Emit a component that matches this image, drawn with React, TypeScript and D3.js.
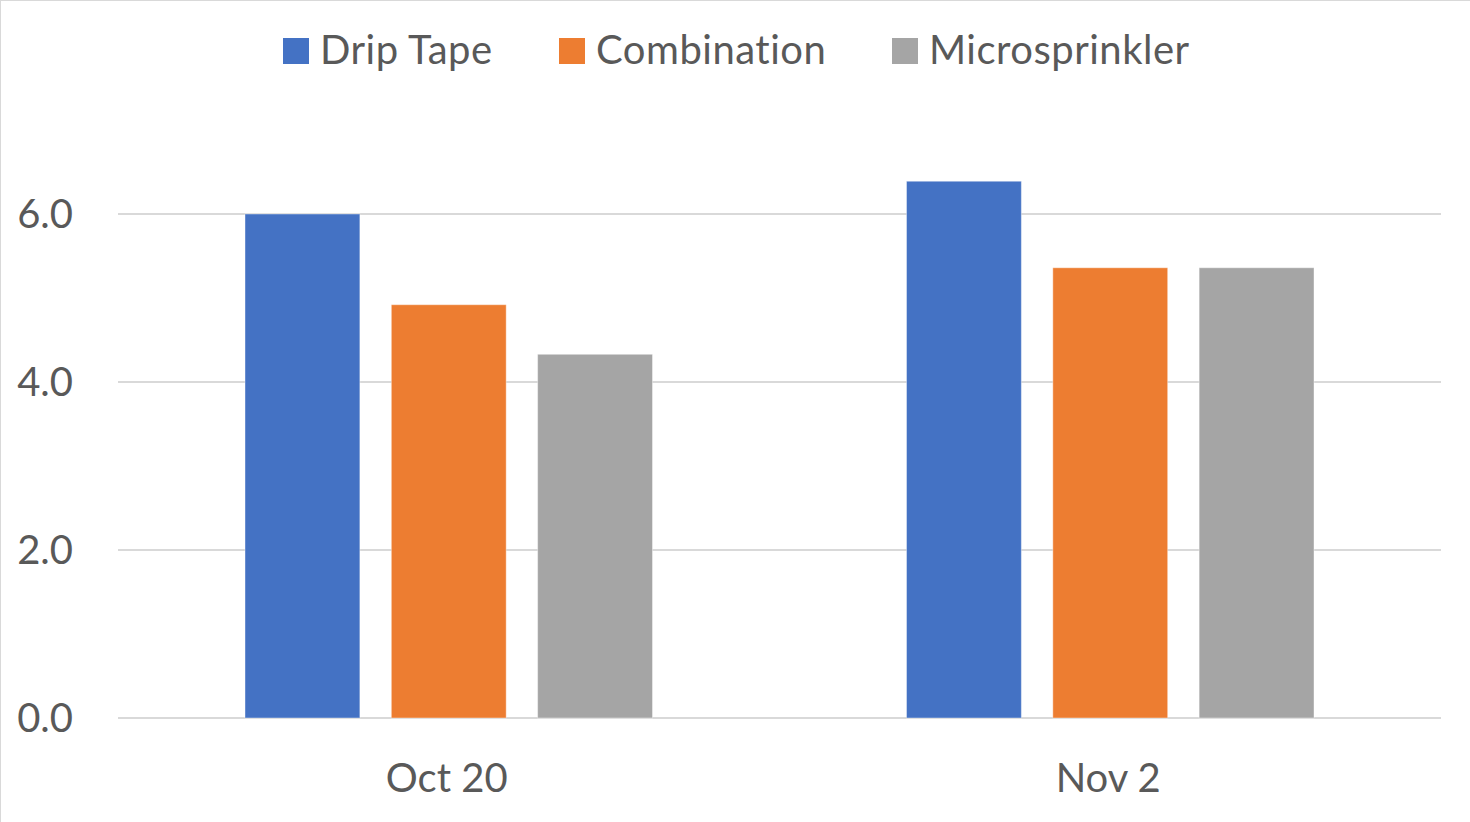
import React, { useEffect, useRef } from 'react';
import * as d3 from 'd3';

const categories = ['Oct 20', 'Nov 2'];
const series = ['Drip Tape', 'Combination', 'Microsprinkler'];
const dripTape = [6.0, 6.39];
const combination = [4.92, 5.36];
const microsprinkler = [4.33, 5.36];
const yTicks = [0, 2, 4, 6];

const colors = ['#4472C4', '#ED7D31', '#A5A5A5'];
const textColor = '#595959';
const gridColor = '#D9D9D9';
const font = 'Lato, "Open Sans", sans-serif';

const width = 1470;
const height = 822;
const margin = { top: 130, right: 29, bottom: 104, left: 118 };

const App: React.FC = () => {
	const ref = useRef<SVGSVGElement>(null);

	useEffect(() => {
		const svg = d3.select(ref.current);
		svg.selectAll('*').remove();

		const values = [dripTape, combination, microsprinkler];
		const innerWidth = width - margin.left - margin.right;
		const innerHeight = height - margin.top - margin.bottom;

		// chart border, like the excel chart area
		svg.append('rect')
			.attr('x', 0.5)
			.attr('y', 0.5)
			.attr('width', width)
			.attr('height', height)
			.attr('fill', '#fff')
			.attr('stroke', gridColor);

		const g = svg.append('g').attr('transform', `translate(${margin.left},${margin.top})`);

		const y = d3.scaleLinear().domain([0, 7]).range([innerHeight, 0]);
		const x0 = d3.scaleBand<string>().domain(categories).range([0, innerWidth]);
		const groupPad = x0.bandwidth() * 0.192;
		const x1 = d3
			.scaleBand<string>()
			.domain(series)
			.range([groupPad, x0.bandwidth() - groupPad])
			.paddingInner(0.215);

		// gridlines
		g.append('g')
			.selectAll('line')
			.data(yTicks)
			.join('line')
			.attr('x1', 0)
			.attr('x2', innerWidth)
			.attr('y1', (d) => y(d))
			.attr('y2', (d) => y(d))
			.attr('stroke', gridColor)
			.attr('stroke-width', 2);

		// y tick labels
		g.append('g')
			.selectAll('text')
			.data(yTicks)
			.join('text')
			.attr('x', -45)
			.attr('y', (d) => y(d))
			.attr('dy', '0.36em')
			.attr('text-anchor', 'end')
			.attr('fill', textColor)
			.style('font-family', font)
			.style('font-size', '40px')
			.text((d) => d3.format('.1f')(d));

		// bars
		categories.forEach((cat, ci) => {
			const cg = g.append('g').attr('transform', `translate(${x0(cat)},0)`);
			cg.selectAll('rect')
				.data(series)
				.join('rect')
				.attr('x', (s) => x1(s) as number)
				.attr('y', (s, si) => y(values[si][ci]))
				.attr('width', x1.bandwidth())
				.attr('height', (s, si) => innerHeight - y(values[si][ci]))
				.attr('fill', (s, si) => colors[si])
				.attr('stroke', '#fff')
				.attr('stroke-opacity', 0.4)
				.attr('stroke-width', 1);
		});

		// category labels
		g.append('g')
			.selectAll('text')
			.data(categories)
			.join('text')
			.attr('x', (d) => (x0(d) as number) + x0.bandwidth() / 2 - 2)
			.attr('y', innerHeight + 74)
			.attr('text-anchor', 'middle')
			.attr('fill', textColor)
			.style('font-family', font)
			.style('font-size', '40px')
			.text((d) => d);

		// legend
		const legendX = [283, 559, 892];
		const lg = svg.append('g');
		series.forEach((s, i) => {
			lg.append('rect')
				.attr('x', legendX[i])
				.attr('y', 38)
				.attr('width', 26)
				.attr('height', 26)
				.attr('fill', colors[i]);
			lg.append('text')
				.attr('x', legendX[i] + 37)
				.attr('y', 64)
				.attr('fill', textColor)
				.style('font-family', font)
				.style('font-size', '40px')
				.style('letter-spacing', '0.5px')
				.text(s);
		});
	}, []);

	return (
		<svg
			ref={ref}
			width={width}
			height={height}
			style={{ position: 'absolute', left: 0, top: 0, display: 'block' }}
		/>
	);
};

export default App;
